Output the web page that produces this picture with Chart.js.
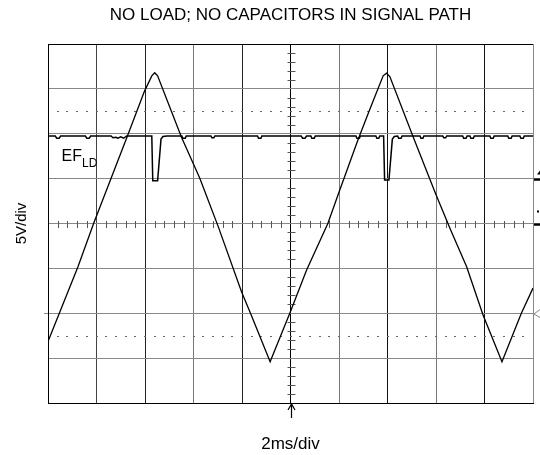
<!DOCTYPE html>
<html><head><meta charset="utf-8">
<script src="https://cdn.jsdelivr.net/npm/chart.js@4"></script>
<style>html,body{margin:0;padding:0;background:#fff;}canvas{display:block;}</style>
</head><body>
<canvas id="c" width="540" height="455"></canvas>
<script>
// ---- text ----
const titleText = 'NO LOAD; NO CAPACITORS IN SIGNAL PATH';
const xAxisLabel = '2ms/div';
const yAxisLabel = '5V/div';
const traceLabel = 'EF';
const traceLabelSub = 'LD';

// ---- graticule (divisions) ----
const xDivisions = [0, 1, 2, 3, 4, 5, 6, 7, 8, 9, 10];
const yDivisions = [-4, -3, -2, -1, 0, 1, 2, 3, 4];
const dottedLevels = [2.5, -2.5];

// ---- triangle wave (x: div, y: div) ----
const triX = [0, 0.62, 0.94, 1.62, 1.99, 2.14, 2.20, 2.26, 2.75, 3.13, 3.51, 3.99, 4.19, 4.58, 5.00, 5.33, 5.77, 5.99, 6.39, 6.63, 6.91, 6.98, 7.05, 7.53, 7.99, 8.30, 8.63, 8.97, 9.36, 9.76, 10.0];
const triY = [-2.63, -0.96, 0.00, 1.90, 2.95, 3.29, 3.36, 3.29, 1.93, 1.01, -0.07, -1.52, -2.04, -3.08, -1.96, -1.04, 0.00, 0.67, 1.86, 2.53, 3.29, 3.35, 3.27, 1.93, 0.67, -0.14, -0.96, -2.04, -3.08, -2.00, -1.44];

// ---- EF_LD trace (x: div, y: div) ----
const efX = [0,
  0.15, 0.18, 0.23, 0.26,
  0.77, 0.80, 0.85, 0.88,
  1.30, 1.34, 1.40, 1.44, 1.50, 1.56, 1.62,
  2.14, 2.16, 2.26, 2.33, 2.37, 2.45,
  2.76, 2.78, 2.83, 2.85,
  3.36, 3.38, 3.42, 3.44,
  4.32, 4.34, 4.39, 4.41,
  5.22, 5.25, 5.30, 5.33, 5.42, 5.44, 5.49, 5.51,
  6.35, 6.37, 6.42, 6.44,
  6.76, 6.78, 6.82, 6.84,
  6.92, 6.94, 7.03, 7.10, 7.14,
  7.21, 7.23, 7.28, 7.30,
  7.67, 7.69, 7.73, 7.75,
  8.14, 8.16, 8.20, 8.22,
  8.55, 8.57, 8.62, 8.64, 8.70, 8.72, 8.77, 8.79,
  9.11, 9.13, 9.18, 9.20,
  9.48, 9.50, 9.55, 9.57, 9.73, 9.75, 9.80, 9.82,
  10];
const efY = [1.95,
  1.95, 1.90, 1.90, 1.95,
  1.95, 1.90, 1.90, 1.95,
  1.95, 1.91, 1.92, 1.90, 1.93, 1.90, 1.95,
  1.95, 0.95, 0.95, 1.88, 1.94, 1.95,
  1.95, 1.90, 1.90, 1.95,
  1.95, 1.91, 1.91, 1.95,
  1.95, 1.90, 1.90, 1.95,
  1.95, 1.90, 1.90, 1.95, 1.95, 1.90, 1.90, 1.95,
  1.95, 1.90, 1.90, 1.95,
  1.95, 1.90, 1.90, 1.95,
  1.95, 0.97, 0.97, 1.88, 1.94,
  1.95, 1.90, 1.90, 1.95,
  1.95, 1.90, 1.90, 1.95,
  1.95, 1.91, 1.91, 1.95,
  1.95, 1.90, 1.90, 1.95, 1.95, 1.90, 1.90, 1.95,
  1.95, 1.90, 1.90, 1.95,
  1.95, 1.90, 1.90, 1.95, 1.95, 1.90, 1.90, 1.95,
  1.95];

// grid line colours (scanned graticule: mixed black / grey)
const xGridColors = ['#000', '#444', '#222', '#777', '#222', '#000', '#777', '#111', '#777', '#111', '#888'];
const yGridColors = ['#000', '#888', '#888', '#888', '#888', '#888', '#888', '#888', '#000'];

const FONT = "'Liberation Sans', Arial, Helvetica, sans-serif";
const toPts = (xs, ys) => xs.map((v, i) => ({x: v, y: ys[i]}));

const scopeDecor = {
  id: 'scopeDecor',
  beforeDatasetsDraw(chart) {
    const {ctx, scales: {x, y}} = chart;
    ctx.save();
    const cx = Math.round(x.getPixelForValue(5)) + 0.5;
    const cy = Math.round(y.getPixelForValue(0)) + 0.5;
    ctx.strokeStyle = '#555';
    ctx.lineWidth = 1;
    ctx.beginPath();
    for (let k = -20; k <= 20; k++) {
      if (k % 5 === 0) continue;
      const py = Math.round(y.getPixelForValue(k * 0.2)) + 0.5;
      ctx.moveTo(cx - 4, py); ctx.lineTo(cx + 4, py);
    }
    for (let k = 1; k < 50; k++) {
      if (k % 5 === 0) continue;
      const px = Math.round(x.getPixelForValue(k * 0.2)) + 0.5;
      ctx.moveTo(px, cy - 3.5); ctx.lineTo(px, cy + 3.5);
    }
    ctx.stroke();
    ctx.fillStyle = '#666';
    for (const lv of dottedLevels) {
      const py = Math.round(y.getPixelForValue(lv));
      for (let k = 1; k < 50; k++) {
        const px = Math.round(x.getPixelForValue(k * 0.2));
        ctx.fillRect(px - 1, py, 2, 1);
      }
    }
    ctx.restore();
  },
  afterDraw(chart) {
    const {ctx, chartArea: a, scales: {x, y}} = chart;
    ctx.save();
    // trace label
    ctx.fillStyle = '#000';
    ctx.textBaseline = 'alphabetic';
    ctx.font = '16px ' + FONT;
    const lx = x.getPixelForValue(0.28), ly = y.getPixelForValue(1.39);
    ctx.fillText(traceLabel, lx, ly);
    const w = ctx.measureText(traceLabel).width;
    ctx.font = '12px ' + FONT;
    ctx.fillText(traceLabelSub, lx + w, y.getPixelForValue(1.27));
    // channel markers on the right edge
    ctx.strokeStyle = '#000';
    ctx.lineWidth = 2.5;
    ctx.beginPath();
    const y1 = Math.round(y.getPixelForValue(1)) + 0.5;
    const y0 = Math.round(y.getPixelForValue(0)) + 0.5;
    ctx.moveTo(a.right + 1, y1); ctx.lineTo(540, y1);
    ctx.moveTo(a.right + 1, y0); ctx.lineTo(540, y0);
    ctx.stroke();
    ctx.fillStyle = '#000';
    ctx.beginPath();
    ctx.moveTo(540, y1 - 9); ctx.lineTo(537, y1 - 5); ctx.lineTo(540, y1 - 5); ctx.closePath(); ctx.fill();
    ctx.fillRect(537, y0 - 14, 2, 2);
    // ground markers
    const yg = Math.round(y.getPixelForValue(-2)) + 0.5;
    ctx.strokeStyle = '#888';
    ctx.lineWidth = 1;
    ctx.beginPath();
    ctx.moveTo(540, yg - 4); ctx.lineTo(a.right + 1, yg + 0.5); ctx.lineTo(540, yg + 4);
    ctx.moveTo(a.left - 4, yg); ctx.lineTo(a.left, yg);
    ctx.stroke();
    // trigger arrow
    const tx = Math.round(x.getPixelForValue(5)) + 0.5;
    ctx.strokeStyle = '#000';
    ctx.lineWidth = 1.2;
    ctx.beginPath();
    ctx.moveTo(tx, a.bottom); ctx.lineTo(tx, a.bottom + 15);
    ctx.moveTo(tx - 3.5, a.bottom + 7); ctx.lineTo(tx, a.bottom + 1); ctx.lineTo(tx + 3.5, a.bottom + 7);
    ctx.stroke();
    ctx.restore();
  }
};

Chart.defaults.color = '#000';
Chart.defaults.font.family = FONT;

new Chart(document.getElementById('c'), {
  type: 'line',
  data: {
    datasets: [
      {label: 'Triangle', data: toPts(triX, triY), borderColor: '#000', borderWidth: 1.3, pointRadius: 0, tension: 0, fill: false},
      {label: traceLabel + traceLabelSub, data: toPts(efX, efY), borderColor: '#000', borderWidth: 1.5, pointRadius: 0, tension: 0, fill: false}
    ]
  },
  options: {
    responsive: false,
    devicePixelRatio: 1,
    animation: false,
    layout: {padding: {left: 0, right: 7, top: 0, bottom: 0}},
    plugins: {
      legend: {display: false},
      tooltip: {enabled: false},
      title: {
        display: true, text: titleText, fullSize: false, color: '#000',
        font: {size: 17, weight: 'normal', family: FONT},
        padding: {top: 5, bottom: 18.6}
      }
    },
    scales: {
      x: {
        type: 'linear', min: xDivisions[0], max: xDivisions[xDivisions.length - 1],
        afterBuildTicks: s => { s.ticks = xDivisions.map(v => ({value: v})); },
        afterFit: s => { s.height = 52; },
        ticks: {display: false},
        grid: {drawTicks: false, lineWidth: 1, color: c => xGridColors[xDivisions.indexOf(c.tick ? c.tick.value : -1)] || '#888'},
        border: {display: true, color: '#000', width: 1},
        title: {display: true, text: xAxisLabel, color: '#000', font: {size: 17, family: FONT}, padding: {top: 0, bottom: 0.5}}
      },
      y: {
        type: 'linear', min: yDivisions[0], max: yDivisions[yDivisions.length - 1],
        afterBuildTicks: s => { s.ticks = yDivisions.map(v => ({value: v})); },
        afterFit: s => { s.width = 48; },
        ticks: {display: false},
        grid: {drawTicks: false, lineWidth: 1, color: c => yGridColors[yDivisions.indexOf(c.tick ? c.tick.value : -99)] || '#888'},
        border: {display: true, color: '#000', width: 1},
        title: {display: true, text: yAxisLabel, color: '#000', font: {size: 15, family: FONT}, padding: {top: 12.5, bottom: 0}}
      }
    }
  },
  plugins: [scopeDecor]
});
</script>
</body></html>
